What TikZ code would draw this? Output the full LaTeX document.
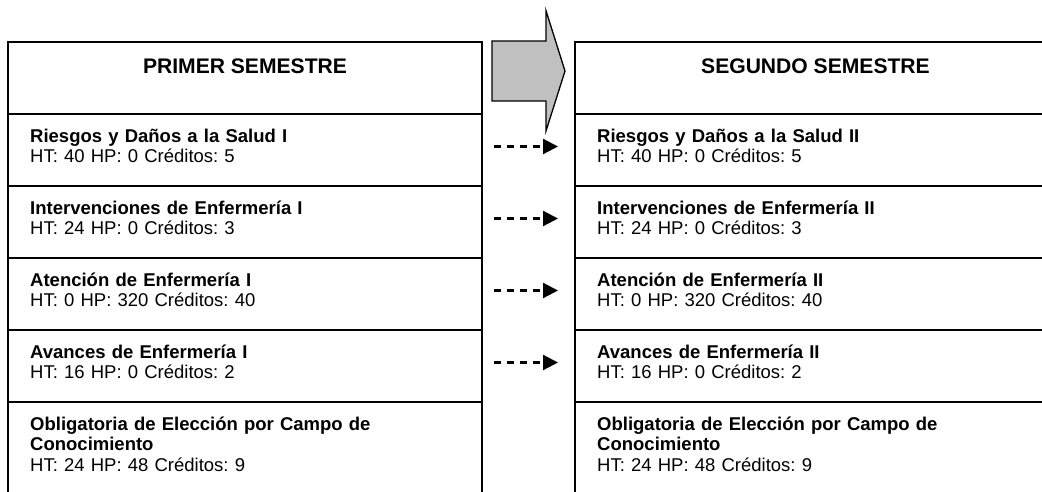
\documentclass[tikz,border=0pt]{standalone}
\usepackage{fontspec}
\setmainfont{Liberation Sans}
\usepackage{xcolor}
\usepackage{tikz}
\usetikzlibrary{positioning,arrows.meta}
\definecolor{flecha}{HTML}{C0C0C0}
\frenchspacing

\begin{document}
\begin{tikzpicture}[x=1pt, y=-1pt,
  celda/.style={draw, line width=2pt, outer sep=0pt, inner sep=0pt, minimum width=474pt, minimum height=72pt, anchor=north west},
  celdader/.style={celda, minimum width=481pt},
  titulo/.style={font=\fontsize{21.1}{25}\selectfont\bfseries, anchor=base, inner sep=0pt},
  texto/.style={font=\fontsize{18.5}{20.8}\selectfont, anchor=base west, inner sep=0pt, text width=440pt, align=left},
  conecta/.style={line width=2.2pt, dash pattern=on 7pt off 6pt, -{Triangle[length=15pt,width=15pt]}, shorten <=12pt, shorten >=17pt}]
\useasboundingbox (0,0) rectangle (1042,491);
\clip (0,0) rectangle (1042,491);
\node[celda, minimum height=71.5pt] (lh) at (8,42) {};
\node[celda, below=0pt of lh] (l1) {};
\node[celda, below=0pt of l1] (l2) {};
\node[celda, below=0pt of l2] (l3) {};
\node[celda, below=0pt of l3] (l4) {};
\node[celda, below=0pt of l4, minimum height=120pt] (l5) {};
\node[celdader, minimum height=71.5pt] (rh) at (575,42) {};
\node[celdader, below=0pt of rh] (r1) {};
\node[celdader, below=0pt of r1] (r2) {};
\node[celdader, below=0pt of r2] (r3) {};
\node[celdader, below=0pt of r3] (r4) {};
\node[celdader, below=0pt of r4, minimum height=120pt] (r5) {};
\node[titulo] (lht) at ([yshift=-31pt]lh.north) {PRIMER SEMESTRE};
\node[titulo] (rht) at ([yshift=-31pt]rh.north) {SEGUNDO SEMESTRE};
\node[texto] (l1t) at ([xshift=22pt,yshift=-28.5pt]l1.north west) {\textbf{Riesgos y Daños a la Salud I}\\HT: 40 HP: 0 Créditos: 5};
\node[texto] (l2t) at ([xshift=22pt,yshift=-28.5pt]l2.north west) {\textbf{Intervenciones de Enfermería I}\\HT: 24 HP: 0 Créditos: 3};
\node[texto] (l3t) at ([xshift=22pt,yshift=-28.5pt]l3.north west) {\textbf{Atención de Enfermería I}\\HT: 0 HP: 320 Créditos: 40};
\node[texto] (l4t) at ([xshift=22pt,yshift=-28.5pt]l4.north west) {\textbf{Avances de Enfermería I}\\HT: 16 HP: 0 Créditos: 2};
\node[texto] (l5t) at ([xshift=22pt,yshift=-28.5pt]l5.north west) {\textbf{Obligatoria de Elección por Campo de}\\\textbf{Conocimiento}\\HT: 24 HP: 48 Créditos: 9};
\node[texto] (r1t) at ([xshift=22pt,yshift=-28.5pt]r1.north west) {\textbf{Riesgos y Daños a la Salud II}\\HT: 40 HP: 0 Créditos: 5};
\node[texto] (r2t) at ([xshift=22pt,yshift=-28.5pt]r2.north west) {\textbf{Intervenciones de Enfermería II}\\HT: 24 HP: 0 Créditos: 3};
\node[texto] (r3t) at ([xshift=22pt,yshift=-28.5pt]r3.north west) {\textbf{Atención de Enfermería II}\\HT: 0 HP: 320 Créditos: 40};
\node[texto] (r4t) at ([xshift=22pt,yshift=-28.5pt]r4.north west) {\textbf{Avances de Enfermería II}\\HT: 16 HP: 0 Créditos: 2};
\node[texto] (r5t) at ([xshift=22pt,yshift=-28.5pt]r5.north west) {\textbf{Obligatoria de Elección por Campo de}\\\textbf{Conocimiento}\\HT: 24 HP: 48 Créditos: 9};
\draw[fill=flecha, line width=1.3pt] (492,41) -- (546,41) -- (546,10.7) -- (565,71) -- (546,131) -- (546,101) -- (492,101) -- cycle;
\draw[conecta] ([yshift=3pt]l1.east) -- ([yshift=3pt]r1.west);
\draw[conecta] ([yshift=3pt]l2.east) -- ([yshift=3pt]r2.west);
\draw[conecta] ([yshift=3pt]l3.east) -- ([yshift=3pt]r3.west);
\draw[conecta] ([yshift=3pt]l4.east) -- ([yshift=3pt]r4.west);
\end{tikzpicture}
\end{document}
